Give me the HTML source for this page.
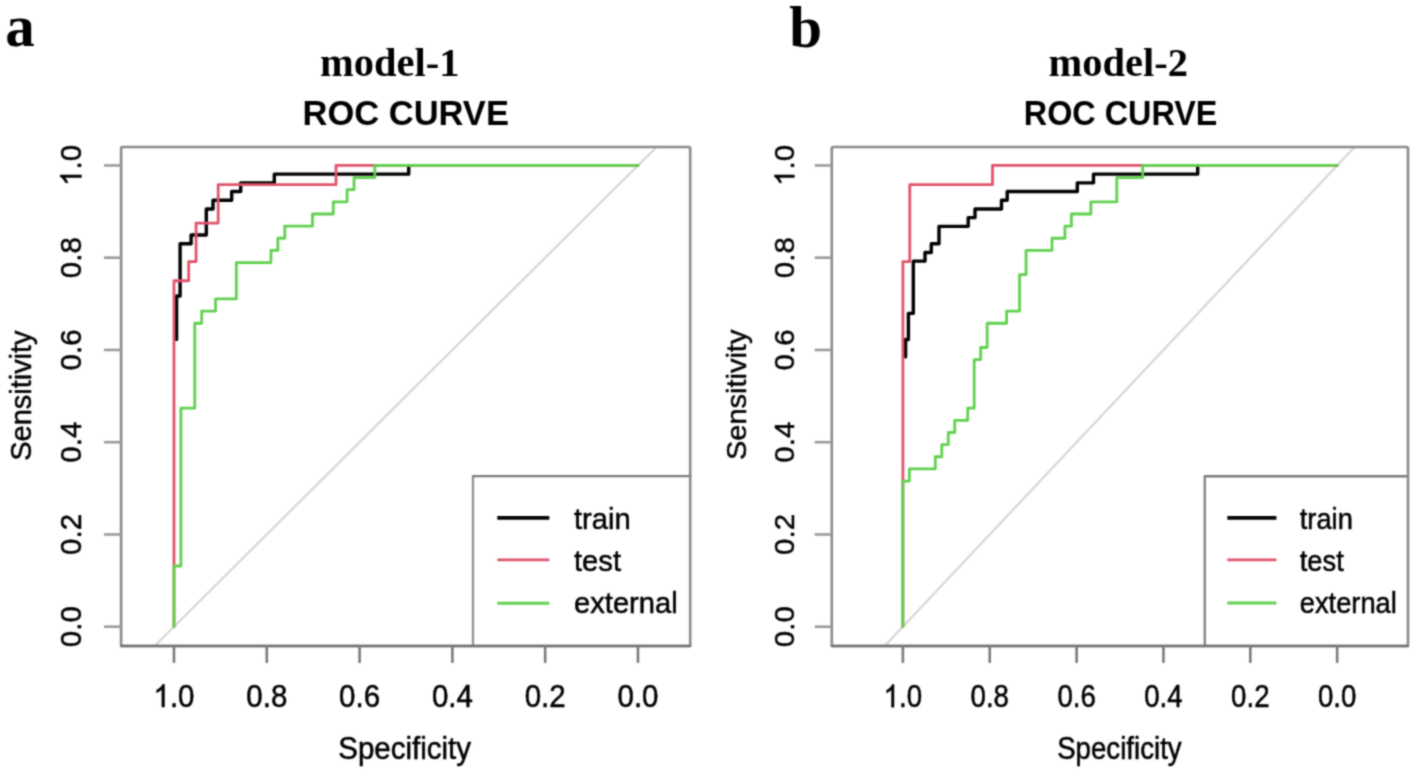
<!DOCTYPE html>
<html><head><meta charset="utf-8"><title>ROC curves</title>
<style>
html,body{margin:0;padding:0;background:#fff;}
body{width:1417px;height:772px;overflow:hidden;font-family:"Liberation Sans", sans-serif;}
svg{display:block;}
.t{stroke:#000;stroke-width:0.5px;}
</style></head>
<body>
<svg width="1417" height="772" viewBox="0 0 1417 772">
<defs><filter id="soft" color-interpolation-filters="sRGB" x="0" y="0" width="100%" height="100%" filterUnits="userSpaceOnUse"><feConvolveMatrix order="5" kernelMatrix="0.00009 0.00198 0.00548 0.00198 0.00009 0.00198 0.04220 0.11707 0.04220 0.00198 0.00548 0.11707 0.32480 0.11707 0.00548 0.00198 0.04220 0.11707 0.04220 0.00198 0.00009 0.00198 0.00548 0.00198 0.00009" edgeMode="duplicate" preserveAlpha="true"/></filter></defs>
<g filter="url(#soft)">
<rect width="1417" height="772" fill="#fff"/>
<clipPath id="clip0"><rect x="121.1" y="147" width="569.1" height="499"/></clipPath>
<line x1="81.18" y1="718.95" x2="730.78" y2="73.19" stroke="#d6d6d6" stroke-width="2.2" clip-path="url(#clip0)"/>
<path d="M176.6 339.5L176.6 295.99L180.1 295.99L180.1 243.77L191.1 243.77L191.1 235.06L206.3 235.06L206.3 208.96L213 208.96L213 200.25L231.7 200.25L231.7 191.55L240.7 191.55L240.7 182.85L274.3 182.85L274.3 174.14L408.7 174.14L408.7 165.44" fill="none" stroke="#000000" stroke-width="3.4" stroke-linejoin="round" stroke-linecap="round" clip-path="url(#clip0)"/>
<path d="M173.98 626.7L173.98 280.75L188.71 280.75L188.71 261.54L196.08 261.54L196.08 223.1L218.17 223.1L218.17 184.66L336.01 184.66L336.01 165.44L637.98 165.44" fill="none" stroke="#DF536B" stroke-width="2.8" stroke-linejoin="round" stroke-linecap="round" clip-path="url(#clip0)"/>
<path d="M173.98 626.7L173.98 566.01L180.91 566.01L180.91 408.21L194.76 408.21L194.76 323.24L201.68 323.24L201.68 311.1L215.53 311.1L215.53 298.96L236.31 298.96L236.31 262.55L270.94 262.55L270.94 250.41L277.86 250.41L277.86 238.27L284.79 238.27L284.79 226.13L312.49 226.13L312.49 213.99L333.26 213.99L333.26 201.86L347.11 201.86L347.11 189.72L354.04 189.72L354.04 177.58L374.82 177.58L374.82 165.44L637.98 165.44" fill="none" stroke="#61D04F" stroke-width="2.8" stroke-linejoin="round" stroke-linecap="round" clip-path="url(#clip0)"/>
<rect x="473" y="476.1" width="217.2" height="169.5" fill="#fff"/>
<path d="M473 645.6L473 476.1" stroke="#959595" stroke-width="2.4" fill="none"/>
<path d="M473 476.1L690.2 476.1" stroke="#7a7a7a" stroke-width="2.4" fill="none" stroke-linecap="round"/>
<line x1="497.3" y1="517.9" x2="549.3" y2="517.9" stroke="#000000" stroke-width="3.9"/>
<text transform="translate(574 529) scale(0.9880 1.01)" class="t" font-family='"Liberation Sans", sans-serif' font-size="29.5">train</text>
<line x1="497.3" y1="559.9" x2="549.3" y2="559.9" stroke="#DF536B" stroke-width="2.9"/>
<text transform="translate(574 571) scale(0.9880 1.01)" class="t" font-family='"Liberation Sans", sans-serif' font-size="29.5">test</text>
<line x1="497.3" y1="603.2" x2="549.3" y2="603.2" stroke="#61D04F" stroke-width="2.9"/>
<text transform="translate(574 613.3) scale(0.9880 1.01)" class="t" font-family='"Liberation Sans", sans-serif' font-size="29.5">external</text>
<rect x="121.1" y="147" width="569.1" height="499" rx="1.5" fill="none" stroke="#8a8a8a" stroke-width="2.6" stroke-linejoin="round"/>
<line x1="121.1" y1="646" x2="690.2" y2="646" stroke="#727272" stroke-width="2.6" stroke-linecap="round"/>
<line x1="104" y1="626.7" x2="121.1" y2="626.7" stroke="#9a9a9a" stroke-width="2.6"/>
<g transform="translate(81.4 626.7) scale(1.0 1) rotate(-90) scale(1 1.0)"><text x="0" y="0" text-anchor="middle" class="t" font-family='"Liberation Sans", sans-serif' font-size="29.5">0.0</text></g>
<line x1="104" y1="534.45" x2="121.1" y2="534.45" stroke="#9a9a9a" stroke-width="2.6"/>
<g transform="translate(81.4 534.45) scale(1.0 1) rotate(-90) scale(1 1.0)"><text x="0" y="0" text-anchor="middle" class="t" font-family='"Liberation Sans", sans-serif' font-size="29.5">0.2</text></g>
<line x1="104" y1="442.2" x2="121.1" y2="442.2" stroke="#9a9a9a" stroke-width="2.6"/>
<g transform="translate(81.4 442.2) scale(1.0 1) rotate(-90) scale(1 1.0)"><text x="0" y="0" text-anchor="middle" class="t" font-family='"Liberation Sans", sans-serif' font-size="29.5">0.4</text></g>
<line x1="104" y1="349.94" x2="121.1" y2="349.94" stroke="#9a9a9a" stroke-width="2.6"/>
<g transform="translate(81.4 349.94) scale(1.0 1) rotate(-90) scale(1 1.0)"><text x="0" y="0" text-anchor="middle" class="t" font-family='"Liberation Sans", sans-serif' font-size="29.5">0.6</text></g>
<line x1="104" y1="257.69" x2="121.1" y2="257.69" stroke="#9a9a9a" stroke-width="2.6"/>
<g transform="translate(81.4 257.69) scale(1.0 1) rotate(-90) scale(1 1.0)"><text x="0" y="0" text-anchor="middle" class="t" font-family='"Liberation Sans", sans-serif' font-size="29.5">0.8</text></g>
<line x1="104" y1="165.44" x2="121.1" y2="165.44" stroke="#9a9a9a" stroke-width="2.6"/>
<g transform="translate(81.4 165.44) scale(1.0 1) rotate(-90) scale(1 1.0)"><path d="M763 0L583 0L583 1147Q518 1085 412 1023Q307 961 223 930L223 1104Q374 1175 487 1276Q600 1377 647 1472L763 1472Z" transform="translate(-20.505 0) scale(0.01440 -0.01440)" fill="#000" stroke="#000" stroke-width="34.7"/><text x="-4.098" y="0" class="t" font-family='"Liberation Sans", sans-serif' font-size="29.5">.0</text></g>
<line x1="173.98" y1="646" x2="173.98" y2="662.9" stroke="#7a7a7a" stroke-width="2.6"/>
<g transform="translate(173.98 707) scale(1.0 1.07)"><path d="M763 0L583 0L583 1147Q518 1085 412 1023Q307 961 223 930L223 1104Q374 1175 487 1276Q600 1377 647 1472L763 1472Z" transform="translate(-20.505 0) scale(0.01440 -0.01440)" fill="#000" stroke="#000" stroke-width="34.7"/><text x="-4.098" y="0" class="t" font-family='"Liberation Sans", sans-serif' font-size="29.5">.0</text></g>
<line x1="266.78" y1="646" x2="266.78" y2="662.9" stroke="#7a7a7a" stroke-width="2.6"/>
<g transform="translate(266.78 707) scale(1.0 1.07)"><text x="0" y="0" text-anchor="middle" class="t" font-family='"Liberation Sans", sans-serif' font-size="29.5">0.8</text></g>
<line x1="359.58" y1="646" x2="359.58" y2="662.9" stroke="#7a7a7a" stroke-width="2.6"/>
<g transform="translate(359.58 707) scale(1.0 1.07)"><text x="0" y="0" text-anchor="middle" class="t" font-family='"Liberation Sans", sans-serif' font-size="29.5">0.6</text></g>
<line x1="452.38" y1="646" x2="452.38" y2="662.9" stroke="#7a7a7a" stroke-width="2.6"/>
<g transform="translate(452.38 707) scale(1.0 1.07)"><text x="0" y="0" text-anchor="middle" class="t" font-family='"Liberation Sans", sans-serif' font-size="29.5">0.4</text></g>
<line x1="545.18" y1="646" x2="545.18" y2="662.9" stroke="#7a7a7a" stroke-width="2.6"/>
<g transform="translate(545.18 707) scale(1.0 1.07)"><text x="0" y="0" text-anchor="middle" class="t" font-family='"Liberation Sans", sans-serif' font-size="29.5">0.2</text></g>
<line x1="637.98" y1="646" x2="637.98" y2="662.9" stroke="#7a7a7a" stroke-width="2.6"/>
<g transform="translate(637.98 707) scale(1.0 1.07)"><text x="0" y="0" text-anchor="middle" class="t" font-family='"Liberation Sans", sans-serif' font-size="29.5">0.0</text></g>
<text transform="translate(404.6 759) scale(1.0 1.035)" text-anchor="middle" class="t" font-family='"Liberation Sans", sans-serif' font-size="29.5">Specificity</text>
<text transform="translate(31 395.6) scale(1.0 1) rotate(-90) scale(0.982 1.0)" text-anchor="middle" class="t" font-family='"Liberation Sans", sans-serif' font-size="29.5">Sensitivity</text>
<text transform="translate(405.7 125) scale(1.0 1)" text-anchor="middle" font-family='"Liberation Sans", sans-serif' font-weight="bold" font-size="34.5">ROC CURVE</text>
<text x="389.7" y="76.2" text-anchor="middle" font-family='"Liberation Serif", serif' font-weight="bold" font-size="40.5">model-1</text>
<text x="5.3" y="46.3" font-family='"Liberation Serif", serif' font-weight="bold" font-size="59.0">a</text>
<clipPath id="clip1"><rect x="831.8" y="147.07" width="576.2" height="498.93"/></clipPath>
<line x1="816.04" y1="718.95" x2="1424.01" y2="73.19" stroke="#d6d6d6" stroke-width="2.2" clip-path="url(#clip1)"/>
<path d="M905.6 356.91L905.6 339.5L908.4 339.5L908.4 313.39L913.3 313.39L913.3 261.17L925 261.17L925 252.47L931.3 252.47L931.3 243.77L939 243.77L939 226.36L968.2 226.36L968.2 217.66L975 217.66L975 208.96L1001.5 208.96L1001.5 200.25L1007.2 200.25L1007.2 191.55L1077.3 191.55L1077.3 182.85L1093.5 182.85L1093.5 174.14L1197.7 174.14L1197.7 165.44" fill="none" stroke="#000000" stroke-width="3.4" stroke-linejoin="round" stroke-linecap="round" clip-path="url(#clip1)"/>
<path d="M902.89 626.7L902.89 261.54L909.78 261.54L909.78 184.66L992.5 184.66L992.5 165.44L1337.16 165.44" fill="none" stroke="#DF536B" stroke-width="2.8" stroke-linejoin="round" stroke-linecap="round" clip-path="url(#clip1)"/>
<path d="M902.89 626.7L902.89 481.04L909.37 481.04L909.37 468.9L935.3 468.9L935.3 456.76L941.78 456.76L941.78 444.62L948.26 444.62L948.26 432.49L954.74 432.49L954.74 420.35L967.71 420.35L967.71 408.21L974.19 408.21L974.19 359.65L980.67 359.65L980.67 347.52L987.15 347.52L987.15 323.24L1006.6 323.24L1006.6 311.1L1019.56 311.1L1019.56 274.69L1026.04 274.69L1026.04 250.41L1051.97 250.41L1051.97 238.27L1064.93 238.27L1064.93 226.13L1071.41 226.13L1071.41 213.99L1090.86 213.99L1090.86 201.86L1116.78 201.86L1116.78 177.58L1142.71 177.58L1142.71 165.44L1337.16 165.44" fill="none" stroke="#61D04F" stroke-width="2.8" stroke-linejoin="round" stroke-linecap="round" clip-path="url(#clip1)"/>
<rect x="1204.8" y="476.3" width="203.2" height="169.3" fill="#fff"/>
<path d="M1204.8 645.6L1204.8 476.3" stroke="#868686" stroke-width="2.4" fill="none"/>
<path d="M1204.8 476.3L1408 476.3" stroke="#7a7a7a" stroke-width="2.4" fill="none" stroke-linecap="round"/>
<line x1="1227.3" y1="517.9" x2="1276.4" y2="517.9" stroke="#000000" stroke-width="3.9"/>
<text transform="translate(1299.7 529) scale(0.9263 1.01)" class="t" font-family='"Liberation Sans", sans-serif' font-size="29.5">train</text>
<line x1="1227.3" y1="559.9" x2="1276.4" y2="559.9" stroke="#DF536B" stroke-width="2.9"/>
<text transform="translate(1299.7 571) scale(0.9263 1.01)" class="t" font-family='"Liberation Sans", sans-serif' font-size="29.5">test</text>
<line x1="1227.3" y1="603" x2="1276.4" y2="603" stroke="#61D04F" stroke-width="2.9"/>
<text transform="translate(1299.7 613.3) scale(0.9263 1.01)" class="t" font-family='"Liberation Sans", sans-serif' font-size="29.5">external</text>
<rect x="831.8" y="147.07" width="576.2" height="498.93" rx="1.5" fill="none" stroke="#8a8a8a" stroke-width="2.6" stroke-linejoin="round"/>
<line x1="831.8" y1="646" x2="1408" y2="646" stroke="#727272" stroke-width="2.6" stroke-linecap="round"/>
<line x1="814.7" y1="626.7" x2="831.8" y2="626.7" stroke="#9a9a9a" stroke-width="2.6"/>
<g transform="translate(794.3 626.7) scale(0.9376 1) rotate(-90) scale(1 1.0)"><text x="0" y="0" text-anchor="middle" class="t" font-family='"Liberation Sans", sans-serif' font-size="29.5">0.0</text></g>
<line x1="814.7" y1="534.45" x2="831.8" y2="534.45" stroke="#9a9a9a" stroke-width="2.6"/>
<g transform="translate(794.3 534.45) scale(0.9376 1) rotate(-90) scale(1 1.0)"><text x="0" y="0" text-anchor="middle" class="t" font-family='"Liberation Sans", sans-serif' font-size="29.5">0.2</text></g>
<line x1="814.7" y1="442.2" x2="831.8" y2="442.2" stroke="#9a9a9a" stroke-width="2.6"/>
<g transform="translate(794.3 442.2) scale(0.9376 1) rotate(-90) scale(1 1.0)"><text x="0" y="0" text-anchor="middle" class="t" font-family='"Liberation Sans", sans-serif' font-size="29.5">0.4</text></g>
<line x1="814.7" y1="349.94" x2="831.8" y2="349.94" stroke="#9a9a9a" stroke-width="2.6"/>
<g transform="translate(794.3 349.94) scale(0.9376 1) rotate(-90) scale(1 1.0)"><text x="0" y="0" text-anchor="middle" class="t" font-family='"Liberation Sans", sans-serif' font-size="29.5">0.6</text></g>
<line x1="814.7" y1="257.69" x2="831.8" y2="257.69" stroke="#9a9a9a" stroke-width="2.6"/>
<g transform="translate(794.3 257.69) scale(0.9376 1) rotate(-90) scale(1 1.0)"><text x="0" y="0" text-anchor="middle" class="t" font-family='"Liberation Sans", sans-serif' font-size="29.5">0.8</text></g>
<line x1="814.7" y1="165.44" x2="831.8" y2="165.44" stroke="#9a9a9a" stroke-width="2.6"/>
<g transform="translate(794.3 165.44) scale(0.9376 1) rotate(-90) scale(1 1.0)"><path d="M763 0L583 0L583 1147Q518 1085 412 1023Q307 961 223 930L223 1104Q374 1175 487 1276Q600 1377 647 1472L763 1472Z" transform="translate(-20.505 0) scale(0.01440 -0.01440)" fill="#000" stroke="#000" stroke-width="34.7"/><text x="-4.098" y="0" class="t" font-family='"Liberation Sans", sans-serif' font-size="29.5">.0</text></g>
<line x1="902.89" y1="646" x2="902.89" y2="662.9" stroke="#7a7a7a" stroke-width="2.6"/>
<g transform="translate(902.89 707.2) scale(0.9376 1.07)"><path d="M763 0L583 0L583 1147Q518 1085 412 1023Q307 961 223 930L223 1104Q374 1175 487 1276Q600 1377 647 1472L763 1472Z" transform="translate(-20.505 0) scale(0.01440 -0.01440)" fill="#000" stroke="#000" stroke-width="34.7"/><text x="-4.098" y="0" class="t" font-family='"Liberation Sans", sans-serif' font-size="29.5">.0</text></g>
<line x1="989.74" y1="646" x2="989.74" y2="662.9" stroke="#7a7a7a" stroke-width="2.6"/>
<g transform="translate(989.74 707.2) scale(0.9376 1.07)"><text x="0" y="0" text-anchor="middle" class="t" font-family='"Liberation Sans", sans-serif' font-size="29.5">0.8</text></g>
<line x1="1076.6" y1="646" x2="1076.6" y2="662.9" stroke="#7a7a7a" stroke-width="2.6"/>
<g transform="translate(1076.6 707.2) scale(0.9376 1.07)"><text x="0" y="0" text-anchor="middle" class="t" font-family='"Liberation Sans", sans-serif' font-size="29.5">0.6</text></g>
<line x1="1163.45" y1="646" x2="1163.45" y2="662.9" stroke="#7a7a7a" stroke-width="2.6"/>
<g transform="translate(1163.45 707.2) scale(0.9376 1.07)"><text x="0" y="0" text-anchor="middle" class="t" font-family='"Liberation Sans", sans-serif' font-size="29.5">0.4</text></g>
<line x1="1250.31" y1="646" x2="1250.31" y2="662.9" stroke="#7a7a7a" stroke-width="2.6"/>
<g transform="translate(1250.31 707.2) scale(0.9376 1.07)"><text x="0" y="0" text-anchor="middle" class="t" font-family='"Liberation Sans", sans-serif' font-size="29.5">0.2</text></g>
<line x1="1337.16" y1="646" x2="1337.16" y2="662.9" stroke="#7a7a7a" stroke-width="2.6"/>
<g transform="translate(1337.16 707.2) scale(0.9376 1.07)"><text x="0" y="0" text-anchor="middle" class="t" font-family='"Liberation Sans", sans-serif' font-size="29.5">0.0</text></g>
<text transform="translate(1119.4 759) scale(0.9376 1.035)" text-anchor="middle" class="t" font-family='"Liberation Sans", sans-serif' font-size="29.5">Specificity</text>
<text transform="translate(745.8 394.8) scale(0.9376 1) rotate(-90) scale(0.982 1.0)" text-anchor="middle" class="t" font-family='"Liberation Sans", sans-serif' font-size="29.5">Sensitivity</text>
<text transform="translate(1120.6 125.1) scale(0.9376 1)" text-anchor="middle" font-family='"Liberation Sans", sans-serif' font-weight="bold" font-size="34.5">ROC CURVE</text>
<text x="1118.2" y="75.6" text-anchor="middle" font-family='"Liberation Serif", serif' font-weight="bold" font-size="40.5">model-2</text>
<text x="789.2" y="46.5" font-family='"Liberation Serif", serif' font-weight="bold" font-size="59.0">b</text>
</g>
</svg>
</body></html>
